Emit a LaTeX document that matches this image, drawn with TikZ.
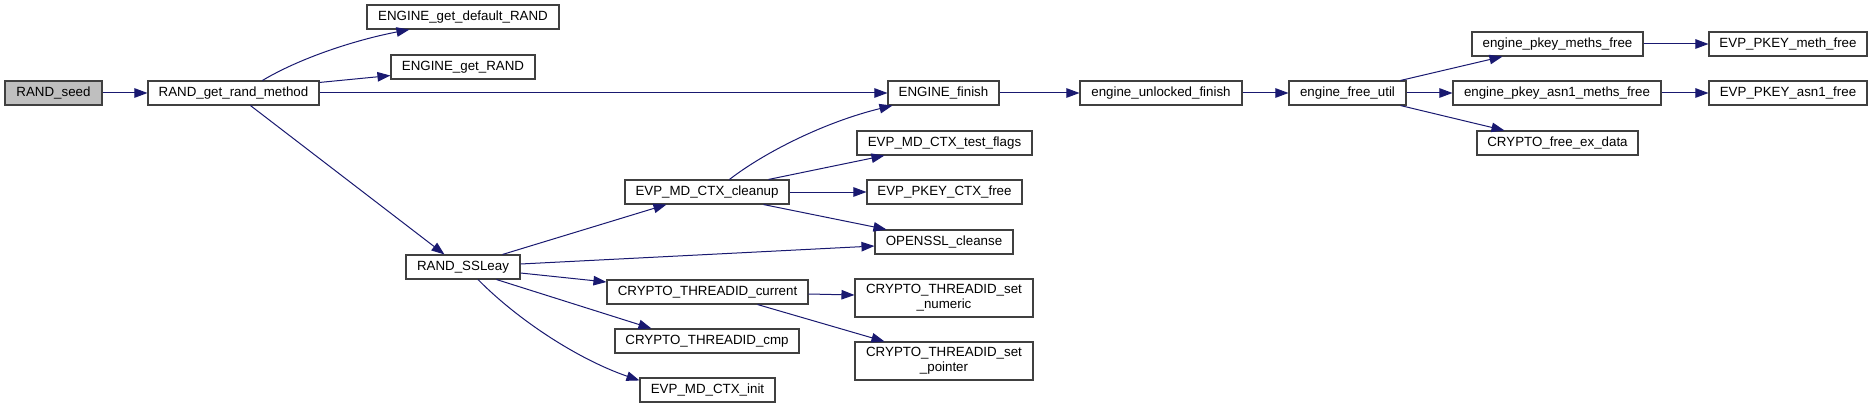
\documentclass[tikz,border=0pt]{standalone}
\usepackage{fontspec}
\setmainfont{Liberation Sans}
\usetikzlibrary{arrows.meta}
\definecolor{edgeblue}{HTML}{191970}
\definecolor{boxline}{HTML}{404040}
\definecolor{rootfill}{HTML}{BFBFBF}
\tikzset{
  box/.style={draw=boxline, line width=1.1pt, fill=white, inner sep=0pt, minimum height=24pt,
    font=\fontsize{13.33}{15}\selectfont, align=center, text=black},
  root/.style={box, fill=rootfill},
  call/.style={draw=edgeblue, line width=1pt, -{Triangle[length=13pt,width=9.5pt]}, edgeblue},
}
\begin{document}
\begin{tikzpicture}[x=1pt,y=-1pt]
\useasboundingbox (0,0) rectangle (1873,409);
% nodes
\node[root, minimum width=97pt] (seed) at (53.5,93) {RAND\_seed};
\node[box, minimum width=171pt] (rgrm) at (233.5,93) {RAND\_get\_rand\_method};
\node[box, minimum width=192pt] (egdr) at (463,17) {ENGINE\_get\_default\_RAND};
\node[box, minimum width=144pt] (egr) at (463,67) {ENGINE\_get\_RAND};
\node[box, minimum width=111pt] (efin) at (943.5,93) {ENGINE\_finish};
\node[box, minimum width=162pt] (euf) at (1161,93) {engine\_unlocked\_finish};
\node[box, minimum width=117pt] (efu) at (1347.5,93) {engine\_free\_util};
\node[box, minimum width=171pt] (epmf) at (1557.5,44) {engine\_pkey\_meths\_free};
\node[box, minimum width=158pt] (epmeth) at (1788,44) {EVP\_PKEY\_meth\_free};
\node[box, minimum width=208pt] (epamf) at (1557,93) {engine\_pkey\_asn1\_meths\_free};
\node[box, minimum width=158pt] (epasn) at (1788,93) {EVP\_PKEY\_asn1\_free};
\node[box, minimum width=161pt] (cfed) at (1557.5,143) {CRYPTO\_free\_ex\_data};
\node[box, minimum width=175pt] (etf) at (944.5,143) {EVP\_MD\_CTX\_test\_flags};
\node[box, minimum width=164pt] (clean) at (707,192) {EVP\_MD\_CTX\_cleanup};
\node[box, minimum width=155pt] (epcf) at (944.5,192) {EVP\_PKEY\_CTX\_free};
\node[box, minimum width=138pt] (cleanse) at (944,242) {OPENSSL\_cleanse};
\node[box, minimum width=114pt] (ssl) at (463,267) {RAND\_SSLeay};
\node[box, minimum width=201pt] (ctc) at (707.5,292) {CRYPTO\_THREADID\_current};
\node[box, minimum width=178pt, minimum height=38pt] (ctsn) at (944,298) {CRYPTO\_THREADID\_set\\\_numeric};
\node[box, minimum width=184pt] (cmp) at (707,341) {CRYPTO\_THREADID\_cmp};
\node[box, minimum width=178pt, minimum height=38pt] (ctsp) at (944,361) {CRYPTO\_THREADID\_set\\\_pointer};
\node[box, minimum width=135pt] (init) at (707.5,390) {EVP\_MD\_CTX\_init};
% edges
\draw[call] (seed.east) -- (rgrm.west);
\draw[call] ([xshift=115pt]rgrm.north west) .. controls (300,58) and (355,40) .. ([xshift=43pt]egdr.south west);
\draw[call] ([yshift=-2pt]rgrm.north east) -- ([yshift=4pt]egr.south west);
\draw[call] (rgrm.east) -- (efin.west);
\draw[call] ([xshift=103pt]rgrm.south west) -- ([xshift=39pt]ssl.north west);
\draw[call] (efin.east) -- (euf.west);
\draw[call] (euf.east) -- (efu.west);
\draw[call] ([xshift=-6pt]efu.north east) -- ([xshift=31pt]epmf.south west);
\draw[call] (efu.east) -- (epamf.west);
\draw[call] ([xshift=-6pt]efu.south east) -- ([xshift=28pt]cfed.north west);
\draw[call] (epmf.east) -- (epmeth.west);
\draw[call] (epamf.east) -- (epasn.west);
\draw[call] ([xshift=-18pt]ssl.north east) -- ([xshift=42pt]clean.south west);
\draw[call] ([yshift=3pt]ssl.east) -- ([yshift=-4pt]cleanse.west);
\draw[call] ([yshift=-6pt]ssl.east) -- ([yshift=10pt]ctc.west);
\draw[call] ([xshift=-24pt]ssl.south east) -- ([xshift=37pt]cmp.north west);
\draw[call] ([xshift=15pt]ssl.south) .. controls (520,322) and (580,360) .. ([yshift=-3pt]init.north west);
\draw[call] ([xshift=105pt]clean.north west) .. controls (765,152) and (825,122) .. ([xshift=5pt]efin.south west);
\draw[call] ([xshift=-21pt]clean.north east) -- ([xshift=28pt]etf.south west);
\draw[call] (clean.east) -- (epcf.west);
\draw[call] ([xshift=-26pt]clean.south east) -- ([xshift=12pt]cleanse.north west);
\draw[call] ([yshift=-2pt]ctc.east) -- ([yshift=3pt]ctsn.west);
\draw[call] ([xshift=-51pt]ctc.south east) -- ([xshift=30pt]ctsp.north west);
\end{tikzpicture}
\end{document}
